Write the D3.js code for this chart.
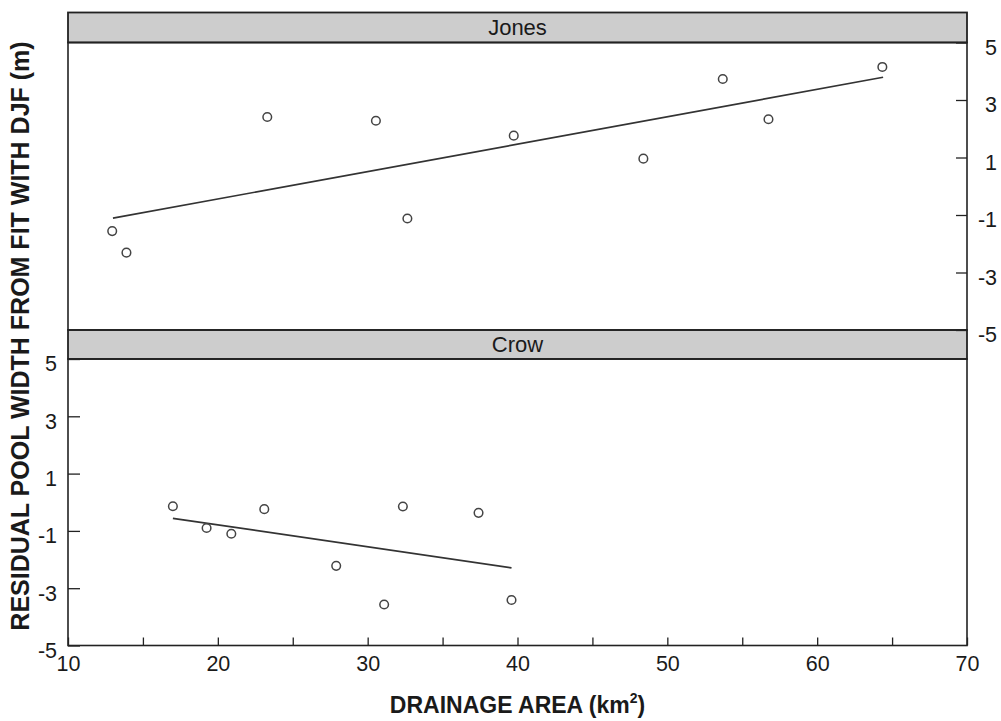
<!DOCTYPE html>
<html>
<head>
<meta charset="utf-8">
<script src="https://cdn.jsdelivr.net/npm/d3@7"></script>
<style>
  html, body { margin: 0; padding: 0; background: #fff; }
  svg { display: block; }
  text { font-family: "Liberation Sans", Arial, Helvetica, sans-serif; fill: #1a1a1a; }
</style>
</head>
<body>
<svg id="chart" width="1001" height="721"></svg>
<script>
// ---- data ----
const panelNames = ["Jones", "Crow"];

const jonesArea  = [12.95, 13.9, 23.3, 30.55, 32.65, 39.75, 48.4, 53.7, 56.75, 64.35];
const jonesResid = [-1.56, -2.31, 2.41, 2.28, -1.12, 1.76, 0.96, 3.73, 2.33, 4.15];
const jonesFitX  = [13.0, 64.4];
const jonesFitY  = [-1.11, 3.79];

const crowArea   = [17.0, 19.25, 20.9, 23.1, 27.9, 31.1, 32.35, 37.4, 39.6];
const crowResid  = [-0.14, -0.9, -1.1, -0.24, -2.22, -3.57, -0.15, -0.37, -3.41];
const crowFitX   = [17.0, 39.6];
const crowFitY   = [-0.56, -2.29];

const xTicks      = [10, 15, 20, 25, 30, 35, 40, 45, 50, 55, 60, 65, 70];
const xTickLabels = ["10", "", "20", "", "30", "", "40", "", "50", "", "60", "", "70"];
const yTicks      = [5, 3, 1, -1, -3, -5];
const yTickLabels = ["5", "3", "1", "-1", "-3", "-5"];

const xTitle = "DRAINAGE AREA (km";
const yTitle = "RESIDUAL POOL WIDTH FROM FIT WITH DJF (m)";

// ---- layout ----
const svg = d3.select("#chart");
const L = 68, R = 967;
const topStrip = [12.5, 42.5], topPanel = [42.5, 330];
const botStrip = [330, 359], botPanel = [359, 645.5];
const frameColor = "#222";
const tickFont = 21.5;

const x = d3.scaleLinear().domain([10, 70]).range([L, R]);
const yTop = d3.scaleLinear().domain([-5, 5]).range([topPanel[1], topPanel[0]]);
const yBot = d3.scaleLinear().domain([-5, 5]).range([botPanel[1], botPanel[0]]);

function strip(y0, y1, label) {
  svg.append("rect").attr("x", L).attr("y", y0).attr("width", R - L).attr("height", y1 - y0)
    .attr("fill", "#cdcdcd").attr("stroke", frameColor).attr("stroke-width", 1.8);
  svg.append("text").attr("x", (L + R) / 2).attr("y", (y0 + y1) / 2 + 7.5)
    .attr("text-anchor", "middle").attr("font-size", 22).text(label);
}

function panelFrame(y0, y1) {
  svg.append("rect").attr("x", L).attr("y", y0).attr("width", R - L).attr("height", y1 - y0)
    .attr("fill", "none").attr("stroke", frameColor).attr("stroke-width", 1.6);
}

function drawPanel(yScale, xs, ys, fx, fy) {
  const line = d3.line().x(d => x(d[0])).y(d => yScale(d[1]));
  svg.append("path").datum(fx.map((v, i) => [v, fy[i]]))
    .attr("d", line).attr("fill", "none").attr("stroke", "#333").attr("stroke-width", 1.7);
  svg.append("g").selectAll("circle").data(xs.map((v, i) => [v, ys[i]])).join("circle")
    .attr("cx", d => x(d[0])).attr("cy", d => yScale(d[1])).attr("r", 4.3)
    .attr("fill", "none").attr("stroke", "#444").attr("stroke-width", 1.5);
}

strip(topStrip[0], topStrip[1], panelNames[0]);
strip(botStrip[0], botStrip[1], panelNames[1]);
panelFrame(topPanel[0], topPanel[1]);
panelFrame(botPanel[0], botPanel[1]);

drawPanel(yTop, jonesArea, jonesResid, jonesFitX, jonesFitY);
drawPanel(yBot, crowArea, crowResid, crowFitX, crowFitY);

// x axis (bottom of Crow panel), ticks inward
const gx = svg.append("g").attr("transform", `translate(0,${botPanel[1]})`)
  .call(d3.axisBottom(x).tickValues(xTicks).tickSize(-8).tickPadding(10)
    .tickFormat((d, i) => xTickLabels[i]));
gx.select(".domain").remove();
gx.selectAll(".tick line").attr("stroke", frameColor).attr("stroke-width", 1.3);
gx.selectAll(".tick text").attr("font-size", tickFont).attr("fill", "#1a1a1a")
  .style("font-family", '"Liberation Sans", Arial, sans-serif');

// left y axis (Crow panel), ticks inward
const gyl = svg.append("g").attr("transform", `translate(${L},0)`)
  .call(d3.axisLeft(yBot).tickValues(yTicks).tickSize(-12).tickPadding(11)
    .tickFormat((d, i) => yTickLabels[i]));
gyl.select(".domain").remove();
gyl.selectAll(".tick line").attr("stroke", frameColor).attr("stroke-width", 1.3);
gyl.selectAll(".tick text").attr("font-size", tickFont).attr("dy", "0.55em").attr("fill", "#1a1a1a")
  .style("font-family", '"Liberation Sans", Arial, sans-serif');

// right y axis (Jones panel), ticks inward
const gyr = svg.append("g").attr("transform", `translate(${R},0)`)
  .call(d3.axisRight(yTop).tickValues(yTicks).tickSize(-11).tickPadding(10)
    .tickFormat((d, i) => yTickLabels[i]));
gyr.select(".domain").remove();
gyr.selectAll(".tick line").attr("stroke", frameColor).attr("stroke-width", 1.3);
gyr.selectAll(".tick text").attr("font-size", tickFont).attr("dy", "0.55em")
  .attr("text-anchor", "end").attr("x", 30).attr("fill", "#1a1a1a")
  .style("font-family", '"Liberation Sans", Arial, sans-serif');

// axis titles
const xt = svg.append("text").attr("x", (L + R) / 2).attr("y", 713)
  .attr("text-anchor", "middle").attr("font-size", 23).attr("font-weight", "bold");
xt.append("tspan").text(xTitle);
xt.append("tspan").attr("font-size", 14).attr("dy", -10).text("2");
xt.append("tspan").attr("dy", 10).text(")");

svg.append("text").attr("transform", `translate(29,336) rotate(-90)`)
  .attr("text-anchor", "middle").attr("font-size", 25).attr("font-weight", "bold")
  .text(yTitle);
</script>
</body>
</html>
